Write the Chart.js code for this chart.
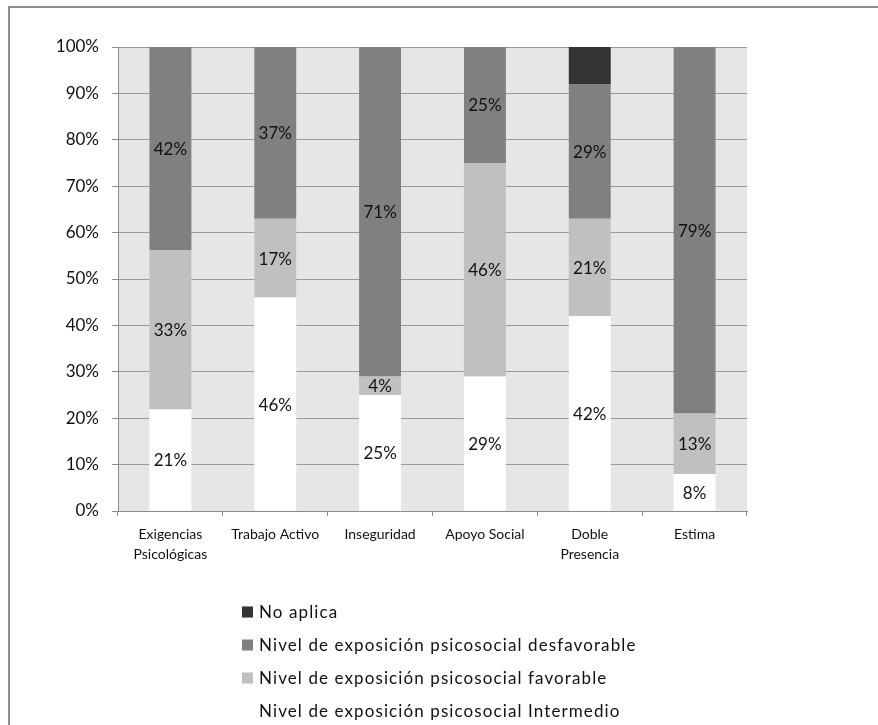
<!DOCTYPE html>
<html>
<head>
<meta charset="utf-8">
<script src="https://cdn.jsdelivr.net/npm/chart.js@4.4.1/dist/chart.umd.min.js"></script>
<style>
  html, body { margin: 0; padding: 0; background: #ffffff; overflow: hidden; }
  #wrap { position: relative; width: 878px; height: 725px; }
  #frame { position: absolute; left: 8px; top: 6px; width: 900px; height: 800px;
           border-top: 2px solid #8f8f8f; border-left: 2px solid #8f8f8f; pointer-events: none; }
</style>
</head>
<body>
<div id="wrap">
  <canvas id="c"></canvas>
  <div id="frame"></div>
</div>
<script>
// ---- data ----
const categories = [
  ['Exigencias', 'Psicológicas'],
  'Trabajo Activo',
  'Inseguridad',
  'Apoyo Social',
  ['Doble', 'Presencia'],
  'Estima'
];
const seriesNames = [
  'Nivel de exposición psicosocial Intermedio',
  'Nivel de exposición psicosocial favorable',
  'Nivel de exposición psicosocial desfavorable',
  'No aplica'
];
const intermedio   = [21, 46, 25, 29, 42, 8];
const favorable    = [33, 17, 4, 46, 21, 13];
const desfavorable = [42, 37, 71, 25, 29, 79];
const noAplica     = [0, 0, 0, 0, 8, 0];
const yTicks = [0, 10, 20, 30, 40, 50, 60, 70, 80, 90, 100];

// ---- styling ----
const colors = ['#ffffff', '#c0c0c0', '#808080', '#333333'];
const showLabels = [true, true, true, false];
const FONT = 'Lato';

const raw = [intermedio, favorable, desfavorable, noAplica];
// 100% stacking: share of each category total
const totals = categories.map((_, i) => raw.reduce((s, arr) => s + arr[i], 0));

const datasets = raw.map((arr, k) => ({
  label: seriesNames[k],
  data: arr.map((v, i) => v / totals[i] * 100),
  rawValues: arr,
  backgroundColor: colors[k],
  borderWidth: 0,
  categoryPercentage: 1.0,
  barPercentage: 0.4,
  showLabels: showLabels[k]
}));

const plotBg = {
  id: 'plotBg',
  beforeDraw(chart) {
    const { ctx, chartArea: a } = chart;
    ctx.save();
    ctx.fillStyle = '#e6e6e6';
    ctx.fillRect(a.left, a.top, a.right - a.left, a.bottom - a.top);
    ctx.restore();
  }
};

const segLabels = {
  id: 'segLabels',
  afterDatasetsDraw(chart) {
    const { ctx } = chart;
    ctx.save();
    ctx.font = '17px ' + FONT;
    ctx.fillStyle = '#111111';
    ctx.textAlign = 'center';
    ctx.textBaseline = 'middle';
    chart.data.datasets.forEach((ds, k) => {
      if (!ds.showLabels) return;
      const meta = chart.getDatasetMeta(k);
      meta.data.forEach((el, i) => {
        const v = ds.rawValues[i];
        if (!v) return;
        const p = el.getProps(['x', 'y', 'base'], true);
        ctx.fillText(v + '%', p.x, (p.y + p.base) / 2 + 1);
      });
    });
    ctx.restore();
  }
};

const vLegend = {
  id: 'vLegend',
  afterDraw(chart) {
    const { ctx } = chart;
    const items = chart.data.datasets.map((d) => ({ label: d.label, color: d.backgroundColor })).reverse();
    ctx.save();
    ctx.font = '17px ' + FONT;
    ctx.letterSpacing = '1.1px';
    ctx.textBaseline = 'middle';
    ctx.textAlign = 'left';
    const box = 11, gap = 6;
    const maxW = Math.max(...items.map(it => ctx.measureText(it.label).width));
    const left = Math.round(chart.width / 2 - (box + gap + maxW) / 2);
    const y0 = chart.chartArea.bottom + 101;
    items.forEach((it, j) => {
      const cy = y0 + j * 33;
      ctx.fillStyle = it.color;
      ctx.fillRect(left, cy - box / 2, box, box);
      ctx.fillStyle = '#111111';
      ctx.fillText(it.label, left + box + gap, cy + 1);
    });
    ctx.restore();
  }
};

new Chart(document.getElementById('c'), {
  type: 'bar',
  data: { labels: categories, datasets },
  options: {
    responsive: true,
    maintainAspectRatio: false,
    animation: false,
    devicePixelRatio: 1,
    layout: { padding: { left: 0, right: 131, top: 47, bottom: 154 } },
    plugins: { legend: { display: false }, tooltip: { enabled: false } },
    scales: {
      x: {
        stacked: true,
        grid: { drawOnChartArea: false, drawTicks: true, tickLength: 5, color: '#8c8c8c', offset: true },
        border: { display: true, color: '#8c8c8c', width: 1 },
        ticks: {
          color: '#111111',
          font: { family: FONT, size: 14, lineHeight: 1.45 },
          maxRotation: 0, minRotation: 0, autoSkip: false, padding: 8
        },
        afterFit(scale) { scale.height = 60; }
      },
      y: {
        stacked: true,
        min: 0, max: 100,
        afterBuildTicks(scale) { scale.ticks = yTicks.map(v => ({ value: v })); },
        grid: { color: '#9a9a9a', lineWidth: 1, drawTicks: true, tickLength: 6, tickColor: '#8c8c8c' },
        border: { display: true, color: '#8c8c8c', width: 1 },
        ticks: {
          color: '#111111',
          font: { family: FONT, size: 17 },
          padding: 13,
          callback: (v) => v + '%'
        },
        afterFit(scale) { scale.width = 118; }
      }
    }
  },
  plugins: [plotBg, segLabels, vLegend]
});
</script>
</body>
</html>
